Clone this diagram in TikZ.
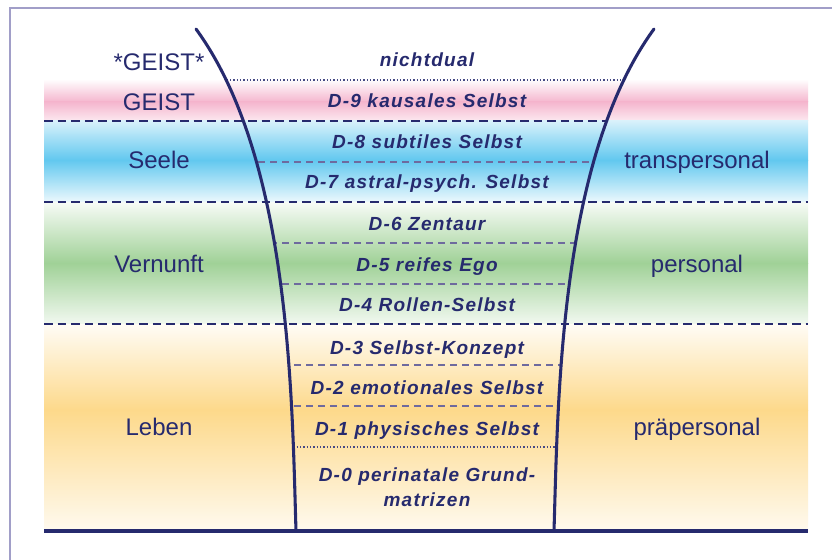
\documentclass[tikz,border=0pt]{standalone}
\usepackage{fontspec}
\setmainfont{Liberation Sans}
\newfontfamily\levelfont[LetterSpace=6.5]{Liberation Sans}
\definecolor{navy}{HTML}{262A6E}
\definecolor{lilac}{HTML}{6E6A9E}
\definecolor{framecol}{HTML}{A19EC8}
\definecolor{pinkband}{HTML}{F5B6CE}
\definecolor{blueband}{HTML}{62C8EF}
\definecolor{greenband}{HTML}{A0D197}
\definecolor{orangeband}{HTML}{FDD98B}

\begin{document}
\begin{tikzpicture}[x=0.75pt, y=-0.75pt]
\tikzset{
  bandrule/.style={navy, line width=1.8pt, dash pattern=on 6.4pt off 3.8pt},
  steprule/.style={lilac, line width=1.5pt, dash pattern=on 5.5pt off 3.5pt},
  dotrule/.style={navy!85, line width=1.1pt, dash pattern=on 1.1pt off 1.4pt},
  funnel/.style={navy, line width=2.3pt, line cap=round},
  side/.style={text=navy, anchor=base, inner sep=0pt, font=\fontsize{18pt}{21pt}\selectfont},
  level/.style={text=navy, anchor=base, inner sep=0pt, align=center,
    font=\levelfont\bfseries\itshape\fontsize{14.25pt}{18.75pt}\selectfont}
}
\useasboundingbox (0,0) rectangle (832,560);
\fill[white] (0,0) rectangle (832,560);
\draw[framecol, line width=1.9pt] (10,560) -- (10,8) -- (832,8);

% colour bands
\foreach \ya/\yb/\yc/\col/\tp/\bt in {80/102/121/pinkband/4/30, 121/160/202/blueband/25/12,
    202/263/324/greenband/8/14, 324/410/531/orangeband/8/14} {
  \shade[top color=\col!\tp, bottom color=\col] (44,\ya) rectangle (808,\yb);
  \shade[top color=\col, bottom color=\col!\bt] (44,\yb) rectangle (808,\yc);
}

\coordinate (tl) at (196,29);
\coordinate (bl) at (296,531);
\coordinate (tr) at (654,29);
\coordinate (br) at (554,531);

% steps inside the funnel
\begin{scope}
  \clip (tl) .. controls (291,159) and (292,401) .. (bl) -- (br)
    .. controls (558,401) and (559,159) .. (tr) -- cycle;
  \draw[dotrule] (150,80) -- (700,80);
  \foreach \y in {162,243,284,365,406}
    \draw[steprule] (150,\y) -- (700,\y);
  \draw[dotrule] (150,447) -- (700,447);
\end{scope}

\draw[bandrule] (44,121) -- (606,121);
\draw[bandrule] (44,202) -- (808,202);
\draw[bandrule] (44,324) -- (808,324);

\draw[funnel] (tl) .. controls (291,159) and (292,401) .. (bl);
\draw[funnel] (tr) .. controls (559,159) and (558,401) .. (br);
\draw[navy, line width=2.3pt] (44,531) -- (808,531);

% left column
\node[side] (spirit0) at (159,70) {*GEIST*};
\node[side] (spirit) at (159,111) {GEIST};
\node[side] (soul) at (159,168) {Seele};
\node[side] (reason) at (159,272.7) {Vernunft};
\node[side] (life) at (159,435) {Leben};

% levels
\node[level] (nondual) at (427,66.7) {nichtdual};
\node[level] (d9) at (427,108) {D-9 kausales Selbst};
\node[level] (d8) at (427,148.3) {D-8 subtiles Selbst};
\node[level] (d7) at (427,188.3) {D-7 astral-psych. Selbst};
\node[level] (d6) at (427,230.7) {D-6 Zentaur};
\node[level] (d5) at (427,271.7) {D-5 reifes Ego};
\node[level] (d4) at (427,311.7) {D-4 Rollen-Selbst};
\node[level] (d3) at (427,354) {D-3 Selbst-Konzept};
\node[level] (d2) at (427,394) {D-2 emotionales Selbst};
\node[level] (d1) at (427,435) {D-1 physisches Selbst};
\node[level] (d0) at (427,506.7) {D-0 perinatale Grund-\\matrizen};

% right column
\node[side] (trans) at (697,168) {transpersonal};
\node[side] (pers) at (697,272) {personal};
\node[side] (prepers) at (697,435) {präpersonal};
\end{tikzpicture}
\end{document}
